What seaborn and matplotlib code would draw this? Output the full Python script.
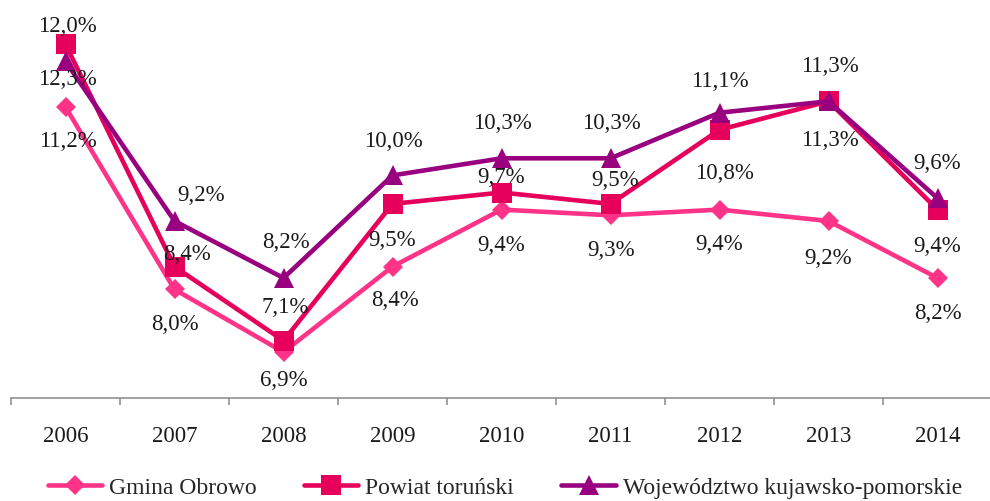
import matplotlib
matplotlib.use("Agg")
import matplotlib.pyplot as plt
import pandas as pd
import seaborn as sns

# Data (stopa bezrobocia, %)
years = ['2006', '2007', '2008', '2009', '2010', '2011', '2012', '2013', '2014']
gmina = [11.2, 8.0, 6.9, 8.4, 9.4, 9.3, 9.4, 9.2, 8.2]
powiat = [12.3, 8.4, 7.1, 9.5, 9.7, 9.5, 10.8, 11.3, 9.4]
wojewodztwo = [12.0, 9.2, 8.2, 10.0, 10.3, 10.3, 11.1, 11.3, 9.6]
names = ['Gmina Obrowo', 'Powiat toruński', 'Województwo kujawsko-pomorskie']

# label offsets in pixels (dx, dy down) relative to each marker
off_gmina = [(2, 35), (0, 35), (0, 28), (2, 34), (0, 36), (1, 35), (0, 35), (0, 37), (0, 35)]
off_powiat = [(2, 35), (12, -12), (2, -33), (0, 37), (0, -15), (5, -23), (5, 44), (1, 39), (0, 37)]
off_woj = [(2, -35), (27, -26), (2, -36), (1, -34), (1, -35), (1, -35), (0, -31), (1, -35), (0, -35)]

pos = list(range(len(years)))
df = pd.DataFrame({
    'x': pos * 3,
    'value': gmina + powiat + wojewodztwo,
    'series': [names[0]] * 9 + [names[1]] * 9 + [names[2]] * 9,
})

sns.set_style("white")
plt.rcParams['font.family'] = ['Liberation Serif', 'DejaVu Serif']

fig = plt.figure(figsize=(9.9, 5.01), dpi=100)
ax = fig.add_axes([11 / 990, 103 / 501, 981 / 990, 398 / 501])

styles = [
    ('#FF3388', 'D', 10.5, off_gmina),
    ('#E6005C', 's', 14, off_powiat),
    ('#990080', '^', 14.5, off_woj),
]
for name, (color, marker, ms, offs) in zip(names, styles):
    sub = df[df['series'] == name]
    sns.lineplot(data=sub, x='x', y='value', ax=ax, color=color, marker=marker,
                 markersize=ms, markeredgewidth=0, linewidth=3.3, label=name,
                 errorbar=None, clip_on=False)
    for xi, v, (dx, dy) in zip(sub['x'], sub['value'], offs):
        ax.annotate(f"{v:.1f}".replace('.', ',') + '%', (xi, v),
                    xytext=(dx * 0.72, -dy * 0.72), textcoords='offset points',
                    ha='center', va='center', fontsize=16.5, color='#1a1a1a',
                    zorder=10, annotation_clip=False)

ax.set_xlim(-0.5, 8.5)
ax.set_ylim(6.095, 13.077)
ax.set_xticks(pos)
ax.set_xticklabels(years, fontsize=16.5, color='#1a1a1a')
ax.set_xticks([p - 0.5 for p in pos] + [8.5], minor=True)
ax.tick_params(axis='x', which='major', bottom=False, length=0, pad=20)
ax.tick_params(axis='x', which='minor', bottom=True, length=5, width=1.1,
               color='#888888', direction='out')
ax.set_yticks([])
ax.set_xlabel('')
ax.set_ylabel('')
for side in ['top', 'right', 'left']:
    ax.spines[side].set_visible(False)
ax.spines['bottom'].set_color('#888888')
ax.spines['bottom'].set_linewidth(1.1)

handles, labels = ax.get_legend_handles_labels()
if ax.get_legend() is not None:
    ax.get_legend().remove()
fig.legend(handles, labels, loc='center', bbox_to_anchor=(0.51, 1 - 488 / 501),
           ncol=3, frameon=False, fontsize=17, handlelength=2.3,
           handletextpad=0.3, columnspacing=2.0)

fig.savefig('out.png', dpi=100)
